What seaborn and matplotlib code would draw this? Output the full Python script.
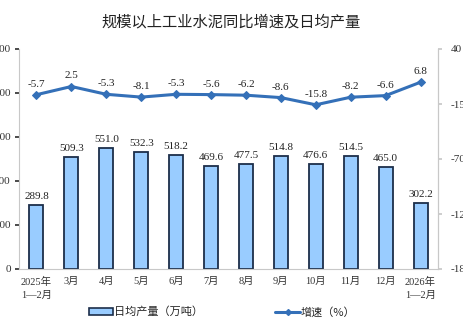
import matplotlib
matplotlib.use("Agg")
import matplotlib.pyplot as plt
import seaborn as sns
import numpy as np
import pandas as pd
from matplotlib.lines import Line2D
from matplotlib.patches import Patch

categories = ["2025年\n1—2月", "3月", "4月", "5月", "6月", "7月", "8月", "9月",
              "10月", "11月", "12月", "2026年\n1—2月"]
daily_output = [289.8, 509.3, 551.0, 532.3, 518.2, 469.6, 477.5, 514.8, 476.6, 514.5, 465.0, 302.2]
growth = [-5.7, 2.5, -5.3, -8.1, -5.3, -5.6, -6.2, -8.6, -15.8, -8.2, -6.6, 6.8]
left_ticks = [0, 200, 400, 600, 800, 1000]
right_ticks = [40, -15, -70, -125, -180]

sns.set_theme(style="white")
FAM = ["Liberation Serif", "Noto Sans CJK SC"]
plt.rcParams["font.family"] = FAM
plt.rcParams["axes.unicode_minus"] = False

BAR_FACE = "#99CCFF"
BAR_EDGE = "#1C2E4A"
LINE_C = "#3470B8"
AX_C = "#C8C8C8"

fig = plt.figure(figsize=(4.63, 3.26), dpi=100)
ax = fig.add_axes([19/463, 1-269/326, (438-19)/463, (269-49)/326])

df = pd.DataFrame({"cat": categories, "val": daily_output})
sns.barplot(data=df, x="cat", y="val", ax=ax, color=BAR_FACE, width=0.4,
            edgecolor=BAR_EDGE, linewidth=1.3, saturation=1)
ax.set_ylim(0, 1000)
ax.set_xlim(-0.5, len(categories)-0.5)
ax.set_yticks(left_ticks)
ax.set_yticklabels([str(t) for t in left_ticks], fontsize=8)
ax.set_xlabel("")
ax.set_ylabel("")
ax.set_xticks(range(len(categories)))
ax.set_xticklabels(categories, fontsize=7.5, linespacing=1.5)
ax.tick_params(axis="x", length=0, pad=6, colors="#333333")
ax.set_xticks(np.arange(len(categories)+1)-0.5, minor=True)
ax.tick_params(axis="x", which="minor", length=4, color=AX_C, direction="out")
ax.tick_params(axis="y", length=3, color=AX_C, direction="out", pad=3, colors="#333333")
ax.tick_params(axis="y", colors="#333333")
for s in ["top"]:
    ax.spines[s].set_visible(False)
for s in ["left", "bottom", "right"]:
    ax.spines[s].set_color(AX_C)
    ax.spines[s].set_linewidth(0.8)

for i, v in enumerate(daily_output):
    ax.text(i, v + 18, f"{v:.1f}", ha="center", va="bottom", fontsize=8, color="#222222")

ax2 = ax.twinx()
ldf = pd.DataFrame({"x": np.arange(len(categories)), "g": growth})
sns.lineplot(data=ldf, x="x", y="g", ax=ax2, color=LINE_C, linewidth=2.2,
             marker="D", markersize=4.5, markeredgecolor=LINE_C)
ax2.set_ylim(-180, 40)
ax2.set_yticks(right_ticks)
ax2.set_yticklabels([str(t) for t in right_ticks], fontsize=8)
ax2.tick_params(axis="y", length=3, color=AX_C, direction="out", pad=6, colors="#333333")
ax2.set_xlabel("")
ax2.set_ylabel("")
for s in ["top", "left", "bottom"]:
    ax2.spines[s].set_visible(False)
ax2.spines["right"].set_color(AX_C)
ax2.spines["right"].set_linewidth(0.8)
ax2.set_xlim(-0.5, len(categories)-0.5)

for i, g in enumerate(growth):
    ax2.text(i, g + 6, f"{g:.1f}", ha="center", va="bottom", fontsize=8, color="#222222")

fig.suptitle("规模以上工业水泥同比增速及日均产量", y=1-22/326, va="center",
             fontsize=11, color="#222222", family=["Noto Sans CJK SC"])

handles = [Patch(facecolor=BAR_FACE, edgecolor=BAR_EDGE, linewidth=1.2),
           Line2D([0], [0], color=LINE_C, linewidth=2.2, marker="D", markersize=3)]
fig.legend(handles, ["日均产量（万吨）", "增速（%）"], loc="center",
           bbox_to_anchor=(222/463, 1-312/326), ncol=2, frameon=False,
           fontsize=8, handlelength=2.2, handleheight=0.6, handletextpad=0.1,
           columnspacing=6.5, prop={"family": ["Noto Sans CJK SC"], "size": 8})

fig.savefig("out.png", dpi=100)
